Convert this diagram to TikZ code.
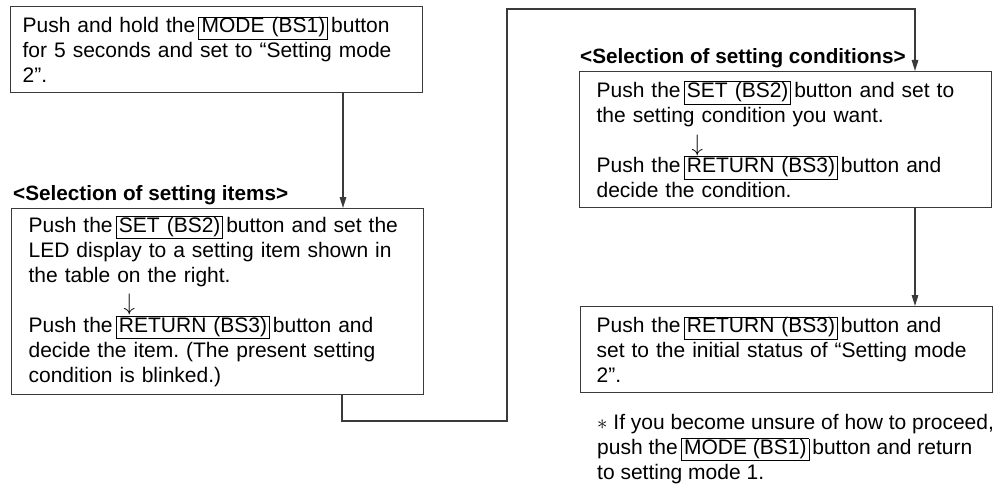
\documentclass[tikz,border=0pt]{standalone}
\usepackage{fontspec}
\usepackage{graphicx}
\setmainfont{Liberation Sans}
\usetikzlibrary{arrows.meta}
\definecolor{ln}{HTML}{3A3A3A}
\newcommand\btn[1]{\hspace{3pt}{\setlength\fboxsep{0pt}\setlength\fboxrule{0.8pt}\fbox{\hspace{2.5pt}\rule[-6pt]{0pt}{20.5pt}#1\hspace{2pt}}}\hspace{3pt}}
\newcommand\darr{\hspace*{95pt}\raisebox{-3.5pt}{\scalebox{1.1}[1.15]{$\downarrow$}}}
\newcommand\myfont{\fontsize{21}{25}\selectfont\frenchspacing\setlength{\lineskiplimit}{-30pt}}
\newcommand\myhfont{\fontsize{20.7}{25}\selectfont\bfseries}
\begin{document}
\begin{tikzpicture}[x=1pt,y=-1pt,
  txt/.style={font=\myfont, align=left, text=black},
  box/.style={txt, draw=ln, line width=1.2pt, anchor=north west, minimum width=412pt, inner ysep=0pt},
  hdr/.style={font=\myhfont, anchor=west, inner sep=0pt},
  conn/.style={draw=ln, line width=1.4pt},
  arr/.style={conn, -{Triangle[length=11pt,width=6.5pt]}}]
\useasboundingbox (0,0) rectangle (996,484);

\node[box, minimum height=86pt, inner xsep=12pt, text width=388pt] (b1) at (10,6)
  {Push and hold the\btn{MODE (BS1)}button\\for 5 seconds and set to “Setting mode\\2”.};

\node[hdr] (h2) at (13,195) {<Selection of setting items>};
\node[box, minimum height=186pt, inner xsep=17pt, text width=378pt] (b2) at (11,208)
  {Push the\btn{SET (BS2)}button and set the\\LED display to a setting item shown in\\the table on the right.\\\darr\\Push the\btn{RETURN (BS3)}button and\\decide the item. (The present setting\\condition is blinked.)};

\node[hdr] (h3) at (580,58) {<Selection of setting conditions>};
\node[box, minimum height=136pt, inner xsep=17pt, text width=378pt] (b3) at (579,71)
  {Push the\btn{SET (BS2)}button and set to\\the setting condition you want.\\\darr\\Push the\btn{RETURN (BS3)}button and\\decide the condition.};

\node[box, minimum height=86pt, inner xsep=16pt, text width=380pt] (b4) at (580,306)
  {Push the\btn{RETURN (BS3)}button and\\set to the initial status of “Setting mode\\2”.};

\node[txt, anchor=north west, inner sep=0pt] (nt) at (597,414)
  {$\ast$ If you become unsure of how to proceed,\\push the\btn{MODE (BS1)}button and return\\to setting mode 1.};

\coordinate (c1) at (343,0);
\coordinate (c2) at (342,0);
\coordinate (k1) at (507,421);
\coordinate (k2) at (915,9);

\draw[arr] (b1.south -| c1) -- (b2.north -| c1);
\draw[arr] (b2.south -| c2) |- (k1) |- (k2) -- (b3.north -| k2);
\draw[arr] (b3.south -| k2) -- (b4.north -| k2);
\end{tikzpicture}
\end{document}
